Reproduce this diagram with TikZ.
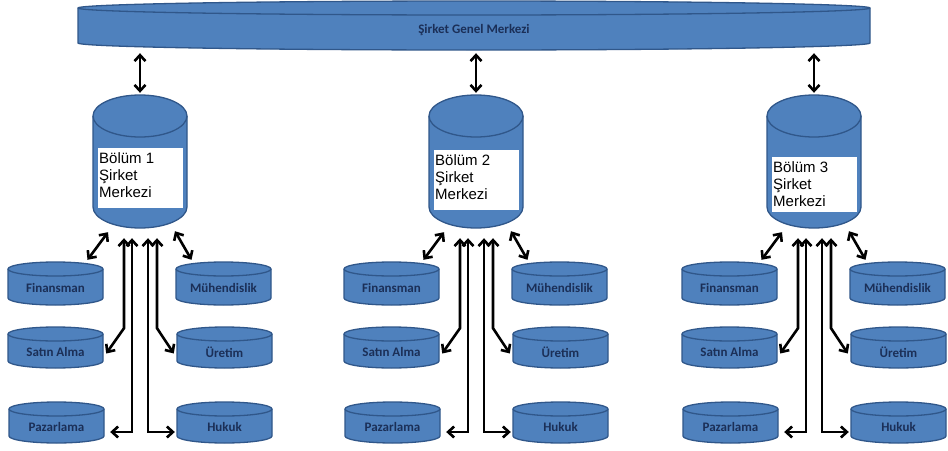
\documentclass[tikz,border=0pt]{standalone}
\usepackage{fontspec}
\setmainfont{Carlito}
\newfontfamily\cardfont{Liberation Sans}
\usetikzlibrary{arrows.meta,calc}

\definecolor{drumblue}{HTML}{4F81BD}
\definecolor{drumedge}{HTML}{30578A}
\definecolor{labelnavy}{HTML}{1B2F57}

\tikzset{
  drumbody/.style={fill=drumblue, draw=drumedge, line width=1.3pt},
  drumrim/.style={draw=drumedge, line width=1.3pt},
  drumlabel/.style={font=\bfseries\fontsize{13}{15}\selectfont, text=labelnavy, inner sep=0pt},
  dbl/.style={line width=2.6pt,
    {Straight Barb[length=6pt,width=11pt]}-{Straight Barb[length=6pt,width=11pt]}},
  card/.style={fill=white, inner sep=0pt, anchor=north west},
  cardtext/.style={font=\cardfont\fontsize{15}{17}\selectfont, align=left,
    anchor=north west, inner sep=0pt}
}

% drum: name, left, top, right, bottom, rim radius, label
\newcommand\drum[7]{%
  \path[drumbody] ({#2},{(#3)+(#6)}) -- ({#2},{(#5)-(#6)})
    arc[start angle=180,end angle=360,x radius={((#4)-(#2))/2*1pt},y radius=#6pt]
    -- ({#4},{(#3)+(#6)})
    arc[start angle=0,end angle=180,x radius={((#4)-(#2))/2*1pt},y radius=#6pt] -- cycle;
  \draw[drumrim] ({#2},{(#3)+(#6)})
    arc[start angle=180,end angle=360,x radius={((#4)-(#2))/2*1pt},y radius=#6pt];
  \node[inner sep=0pt, minimum width={((#4)-(#2))*1pt}, minimum height={((#5)-(#3))*1pt}]
    (#1) at ({((#2)+(#4))/2},{((#3)+(#5))/2}) {};
  \node[drumlabel] (#1-label) at ({((#2)+(#4))/2},{((#3)+(#6)+(#5))/2+1}) {#7};
}

% division: tag, x offset, number, card top, card height
\newcommand\division[5]{%
  \drum{#1-bol}{93+#2}{95}{187+#2}{228}{21}{}
  \node[card, minimum width=85pt, minimum height=#5pt] (#1-card) at ({98+#2},#4) {};
  \node[cardtext] (#1-text) at ({99+#2},{#4+4}) {Bölüm #3\\Şirket\\Merkezi};
  \drum{#1-fin}{8+#2}{262}{103+#2}{305}{7}{Finansman}
  \drum{#1-sat}{8+#2}{327}{103+#2}{368}{7}{Satın Alma}
  \drum{#1-paz}{9+#2}{402}{104+#2}{443}{7}{Pazarlama}
  \drum{#1-muh}{176+#2}{262}{271+#2}{305}{7}{Mühendislik}
  \drum{#1-ure}{177+#2}{327}{272+#2}{368}{7}{Üretim}
  \drum{#1-huk}{177+#2}{402}{272+#2}{443}{7}{Hukuk}
  % links to the head office and to the departments
  \draw[dbl] ($(#1-bol.north |- hq.south)+(0,3)$) -- ($(#1-bol.north)+(0,-2)$);
  \draw[dbl] ($(#1-bol.south)+(-32,4)$) -- ($(#1-fin.north)+(32,-2)$);
  \draw[dbl] ($(#1-bol.south)+(35,3)$) -- ($(#1-muh.north)+(-32,-2)$);
  \draw[dbl] ($(#1-bol.south)+(-16,10)$) -- ($(#1-bol.south)+(-16,100)$)
    -- ($(#1-sat.east)+(3,6)$);
  \draw[dbl] ($(#1-bol.south)+(-8,10)$) |- ($(#1-paz.east)+(6,9.5)$);
  \draw[dbl] ($(#1-bol.south)+(8,10)$) |- ($(#1-huk.west)+(-2,9.5)$);
  \draw[dbl] ($(#1-bol.south)+(17,10)$) -- ($(#1-bol.south)+(17,100)$)
    -- ($(#1-ure.west)+(-3,6)$);
}

\begin{document}
\begin{tikzpicture}[x=1pt,y=-1pt]
  \useasboundingbox (0,0) rectangle (948,450);
  \fill[white] (0,0) rectangle (948,450);
  \drum{hq}{78}{1}{870}{50}{7}{Şirket Genel Merkezi}
  \division{a}{0}{1}{148}{60}
  \division{b}{336}{2}{150}{60}
  \division{c}{674}{3}{157}{55}
\end{tikzpicture}
\end{document}
